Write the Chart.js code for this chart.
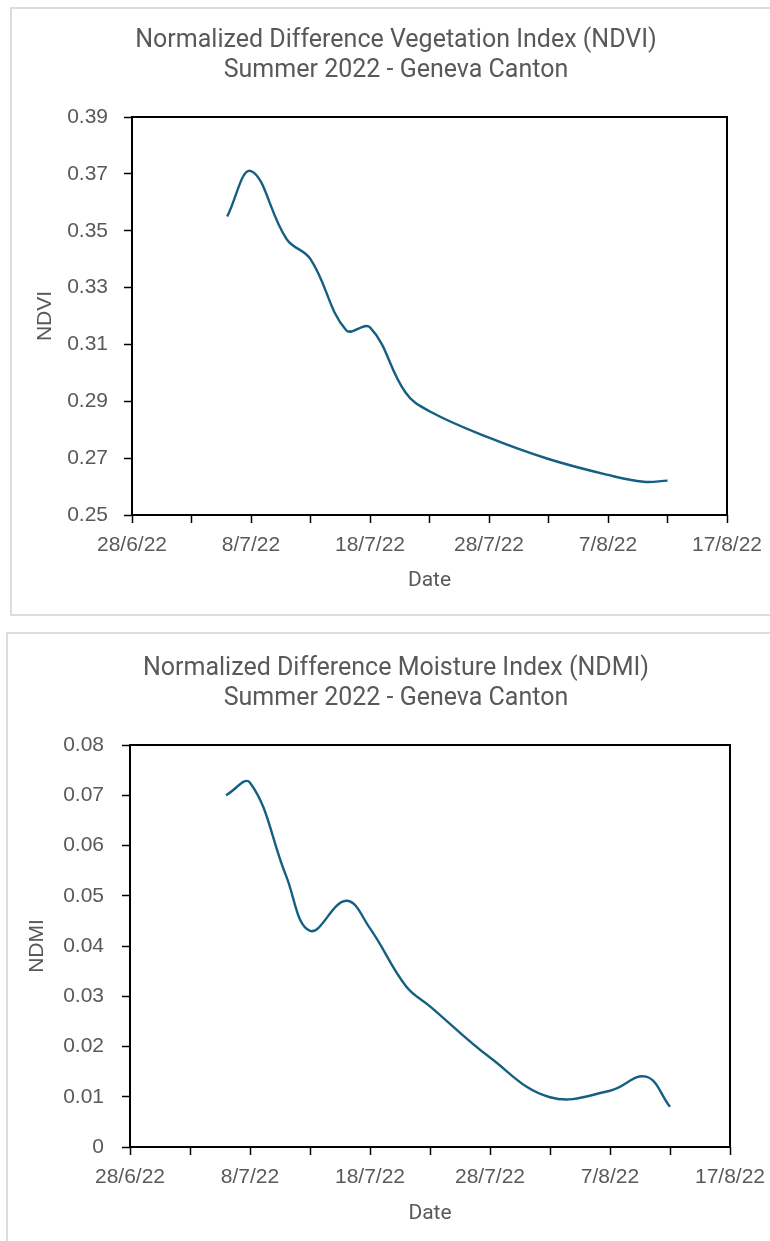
<!DOCTYPE html>
<html>
<head>
<meta charset="utf-8">
<title>NDVI / NDMI - Summer 2022 - Geneva Canton</title>
<script src="https://cdn.jsdelivr.net/npm/chart.js@4.4.1/dist/chart.umd.min.js"></script>
<style>
    html, body { margin: 0; padding: 0; background: #fff; overflow: hidden; }
    body { position: relative; width: 770px; height: 1241px; }
    .panel { position: absolute; border: 2px solid #dcdcdc; background: #fff; }
    #panel-ndvi { left: 10px; top: 7px; width: 800px; height: 605px; }
    #panel-ndmi { left: 6px; top: 632px; width: 800px; height: 700px; }
    canvas { position: absolute; left: 0; }
    #ndvi-chart { top: 0; }
    #ndmi-chart { top: 628px; }
</style>
</head>
<body>
<div class="panel" id="panel-ndvi"></div>
<div class="panel" id="panel-ndmi"></div>
<canvas id="ndvi-chart" width="792" height="625"></canvas>
<canvas id="ndmi-chart" width="792" height="625"></canvas>

<script>
    // Acquisition dates (d/m/yy)
    const dates = ['6/7/22', '8/7/22', '11/7/22', '13/7/22', '16/7/22', '18/7/22', '21/7/22',
                   '23/7/22', '28/7/22', '2/8/22', '7/8/22', '10/8/22', '12/8/22'];

    // Index values
    const ndviValues = [0.355, 0.371, 0.347, 0.340, 0.315, 0.316, 0.293,
                        0.2865, 0.2772, 0.2697, 0.2641, 0.2617, 0.2621];
    const ndmiValues = [0.0700, 0.0725, 0.0540, 0.0430, 0.0490, 0.0435, 0.0320,
                        0.0280, 0.0178, 0.0099, 0.0112, 0.0140, 0.0080];

    // Axis ranges
    const xStartDate = '28/6/22';
    const xSpanDays = 50;
    const xStepDays = 5;
    const ndviTicks = [0.25, 0.39, 0.02];
    const ndmiTicks = [0, 0.08, 0.01];

    const lineColor = '#156082';
    const textColor = '#595959';
    const tickFont = "'Liberation Sans', Arial, sans-serif";
    const titleFont = "Roboto, 'Liberation Sans', sans-serif";

    function parseDate(s) {
        const [d, m, y] = s.split('/').map(Number);
        return new Date(2000 + y, m - 1, d);
    }

    const baseDate = parseDate(xStartDate);

    function dayOffset(s) {
        return Math.round((parseDate(s) - baseDate) / 86400000);
    }

    function dateLabel(days) {
        const dt = new Date(baseDate);
        dt.setDate(dt.getDate() + days);
        return dt.getDate() + '/' + (dt.getMonth() + 1) + '/' + String(dt.getFullYear()).slice(2);
    }

    // Black box around the plot area
    const framePlugin = {
        id: 'frame',
        afterDatasetsDraw(chart) {
            const { ctx, chartArea: a } = chart;
            ctx.save();
            ctx.strokeStyle = '#000';
            ctx.lineWidth = 2;
            ctx.strokeRect(a.left, a.top, a.right - a.left, a.bottom - a.top);
            ctx.restore();
        }
    };

    function makeChart(id, s) {
        const [yMin, yMax, yStep] = s.ticks;
        return new Chart(document.getElementById(id), {
            type: 'line',
            data: {
                datasets: [{
                    label: s.yTitle,
                    data: dates.map((d, i) => ({ x: dayOffset(d), y: s.values[i] })),
                    borderColor: lineColor,
                    borderWidth: 2.4,
                    pointRadius: 0,
                    tension: 0.4,
                    fill: false
                }]
            },
            options: {
                responsive: false,
                animation: false,
                devicePixelRatio: 1,
                layout: { padding: 0 },
                plugins: {
                    legend: { display: false },
                    tooltip: { enabled: false },
                    title: {
                        display: true,
                        text: s.title,
                        color: textColor,
                        font: { family: titleFont, size: 25, weight: 'normal', lineHeight: '30px' },
                        padding: { top: 26, bottom: 31 }
                    }
                },
                scales: {
                    x: {
                        type: 'linear',
                        min: 0,
                        max: xSpanDays,
                        border: { display: false },
                        grid: { drawOnChartArea: false, tickLength: 8, tickColor: '#000', tickWidth: 1.5 },
                        ticks: {
                            stepSize: xStepDays,
                            autoSkip: false,
                            maxRotation: 0,
                            minRotation: 0,
                            padding: s.xLabelPad,
                            color: textColor,
                            font: { family: tickFont, size: 21 },
                            callback: v => (v % 10 === 0 ? dateLabel(v) : '')
                        },
                        title: {
                            display: true,
                            text: 'Date',
                            color: textColor,
                            font: { family: titleFont, size: 21 },
                            padding: { top: 0, bottom: s.xTitlePad }
                        },
                        afterFit: sc => { sc.height = s.xHeight; }
                    },
                    y: {
                        min: yMin,
                        max: yMax,
                        border: { display: false },
                        grid: { drawOnChartArea: false, tickLength: 8, tickColor: '#000', tickWidth: 1.5 },
                        ticks: {
                            stepSize: yStep,
                            padding: s.yLabelPad,
                            color: textColor,
                            font: { family: tickFont, size: 21 },
                            callback: v => (v === 0 ? '0' : v.toFixed(2))
                        },
                        title: {
                            display: true,
                            text: s.yTitle,
                            color: textColor,
                            font: { family: tickFont, size: 21 },
                            padding: { top: s.yTitlePad, bottom: 0 }
                        },
                        afterFit: sc => { sc.width = s.left; }
                    },
                    // empty right-hand spacer so the title centres like the original
                    y2: {
                        position: 'right',
                        grid: { display: false },
                        border: { display: false },
                        ticks: { display: false },
                        afterFit: sc => { sc.width = s.right; }
                    }
                }
            },
            plugins: [framePlugin]
        });
    }

    document.addEventListener('DOMContentLoaded', function() {
        makeChart('ndvi-chart', {
            title: ['Normalized Difference Vegetation Index (NDVI)', 'Summer 2022 - Geneva Canton'],
            yTitle: 'NDVI',
            values: ndviValues,
            ticks: ndviTicks,
            left: 132, right: 65, xHeight: 110,
            yLabelPad: 16, yTitlePad: 33, xLabelPad: 10, xTitlePad: 32
        });

        makeChart('ndmi-chart', {
            title: ['Normalized Difference Moisture Index (NDMI)', 'Summer 2022 - Geneva Canton'],
            yTitle: 'NDMI',
            values: ndmiValues,
            ticks: ndmiTicks,
            left: 130, right: 62, xHeight: 106,
            yLabelPad: 18, yTitlePad: 25, xLabelPad: 10, xTitlePad: 27
        });
    });
</script>
</body>
</html>
